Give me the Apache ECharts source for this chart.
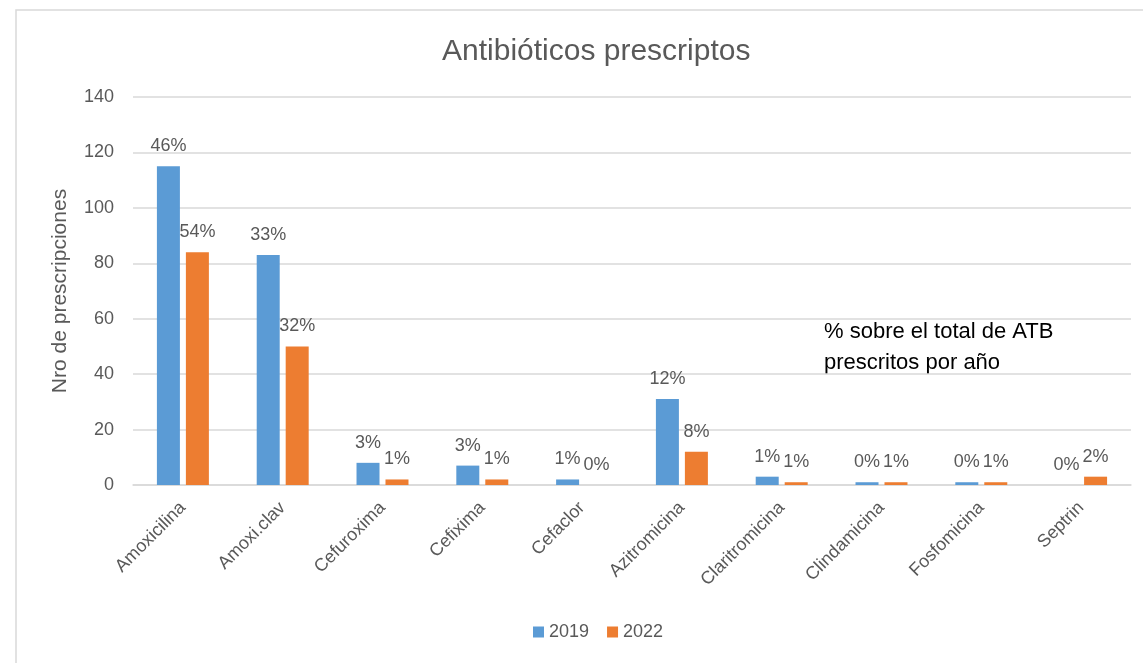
<!DOCTYPE html>
<html>
<head>
<meta charset="utf-8">
<script src="https://cdn.jsdelivr.net/npm/echarts@6/dist/echarts.min.js"></script>
<style>
  html, body { margin: 0; padding: 0; background: #fff; }
  #chart { width: 1143px; height: 663px; }
</style>
</head>
<body>
<div id="chart"></div>
<script>
const categories = ['Amoxicilina', 'Amoxi.clav', 'Cefuroxima', 'Cefixima', 'Cefaclor',
  'Azitromicina', 'Claritromicina', 'Clindamicina', 'Fosfomicina', 'Septrin']
const values2019 = [115, 83, 8, 7, 2, 31, 3, 1, 1, 0]
const values2022 = [84, 50, 2, 2, 0, 12, 1, 1, 1, 3]
const pct2019 = ['46%', '33%', '3%', '3%', '1%', '12%', '1%', '0%', '0%', '0%']
const pct2022 = ['54%', '32%', '1%', '1%', '0%', '8%', '1%', '1%', '1%', '2%']

const font = 'Liberation Sans, Arial, sans-serif'
const grey = '#595959'

const chart = echarts.init(document.getElementById('chart'))

const option = {
  textStyle: { fontFamily: font },
  title: {
    text: 'Antibióticos prescriptos',
    left: 437,
    top: 32,
    textStyle: { fontSize: 30, fontWeight: 'normal', color: grey, fontFamily: font }
  },
  graphic: [
    {
      type: 'rect',
      shape: { x: 16, y: 10, width: 1140, height: 670 },
      style: { fill: 'none', stroke: '#d9d9d9', lineWidth: 1.5 },
      silent: true
    },
    {
      type: 'text',
      left: 824,
      top: 316,
      style: {
        text: '% sobre el total de ATB\nprescritos por año',
        fontSize: 22,
        lineHeight: 31,
        fill: '#000',
        fontFamily: font
      }
    }
  ],
  legend: {
    bottom: 17,
    left: 528,
    itemWidth: 11,
    itemHeight: 11,
    itemGap: 18,
    icon: 'rect',
    textStyle: { fontSize: 18, color: grey, fontFamily: font }
  },
  grid: { left: 133, right: 12, top: 97, bottom: 178, containLabel: false },
  xAxis: {
    type: 'category',
    data: categories,
    axisTick: { show: false },
    axisLine: { lineStyle: { color: '#d9d9d9', width: 1.5 } },
    axisLabel: {
      rotate: 45,
      fontSize: 18,
      color: grey,
      interval: 0,
      margin: 20,
      fontFamily: font
    }
  },
  yAxis: {
    type: 'value',
    min: 0,
    max: 140,
    interval: 20,
    name: 'Nro de prescripciones',
    nameLocation: 'middle',
    nameGap: 62,
    nameTextStyle: { fontSize: 21, color: grey, fontFamily: font },
    axisLine: { show: false },
    axisTick: { show: false },
    axisLabel: { fontSize: 18, color: grey, margin: 19, fontFamily: font },
    splitLine: { lineStyle: { color: '#d9d9d9', width: 1.5 } }
  },
  series: [
    {
      name: '2019',
      type: 'bar',
      data: values2019,
      barWidth: 23,
      barGap: '26%',
      itemStyle: { color: '#5b9bd5' },
      label: {
        show: true,
        position: 'top',
        distance: 11,
        fontSize: 18,
        color: grey,
        fontFamily: font,
        formatter: p => pct2019[p.dataIndex]
      }
    },
    {
      name: '2022',
      type: 'bar',
      data: values2022,
      barWidth: 23,
      itemStyle: { color: '#ed7d31' },
      label: {
        show: true,
        position: 'top',
        distance: 11,
        fontSize: 18,
        color: grey,
        fontFamily: font,
        formatter: p => pct2022[p.dataIndex]
      }
    }
  ]
}

chart.setOption(option)
</script>
</body>
</html>
